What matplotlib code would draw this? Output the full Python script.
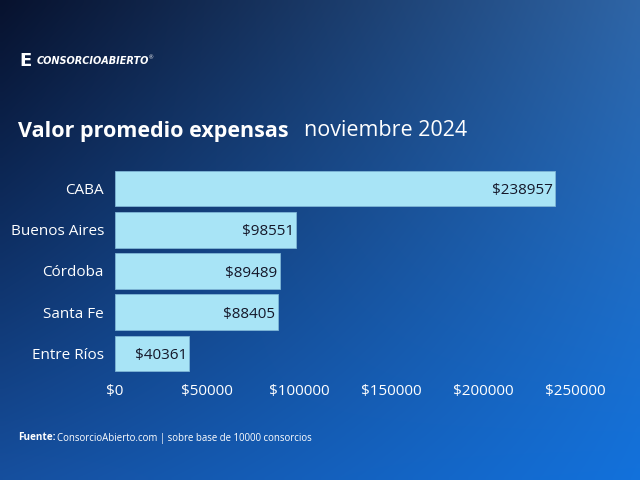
import numpy as np
import matplotlib
matplotlib.use('Agg')
import matplotlib.pyplot as plt
from matplotlib.ticker import FuncFormatter

regions = ['CABA', 'Buenos Aires', 'Córdoba', 'Santa Fe', 'Entre Ríos']
values = [238957, 98551, 89489, 88405, 40361]
xticks = [0, 50000, 100000, 150000, 200000, 250000]

plt.rcParams['font.family'] = ['Open Sans', 'DejaVu Sans']

fig = plt.figure(figsize=(6.4, 4.8), dpi=100)

# background gradient (corner colours)
bg = fig.add_axes([0, 0, 1, 1])
tl = np.array([0x0c, 0x1a, 0x3a]) / 255.
tr = np.array([0x3a, 0x72, 0xb0]) / 255.
bl = np.array([0x1e, 0x5c, 0xa8]) / 255.
br = np.array([0x1a, 0x7e, 0xe0]) / 255.
u = np.linspace(0, 1, 128)[None, :, None]
v = np.linspace(0, 1, 96)[:, None, None]
grad = (1 - v) * ((1 - u) * tl + u * tr) + v * ((1 - u) * bl + u * br)
grad = np.clip(grad ** 1.15, 0, 1)
bg.imshow(grad, aspect='auto', extent=[0, 1, 0, 1], interpolation='bilinear')
bg.set_axis_off()

ax = fig.add_axes([115 / 640, 1 - 374 / 480, 460 / 640, 206 / 480])
ax.patch.set_alpha(0)
y = np.arange(len(regions))
ax.barh(y, values, height=0.86, color='#a8e4f6', edgecolor='#7fb6d6',
        linewidth=0.6, zorder=2)
for yi, val in zip(y, values):
    ax.text(val - 1200, yi, '$%d' % val, ha='right', va='center_baseline',
            fontsize=11, color='#15182a', zorder=3)
ax.set_yticks(y)
ax.set_yticklabels(regions)
ax.set_ylim(len(regions) - 0.5, -0.5)
ax.set_xlim(0, 250000)
ax.set_xticks(xticks)
ax.xaxis.set_major_formatter(FuncFormatter(lambda x, p: '$%d' % x))
ax.tick_params(length=0, labelsize=11, colors='white')
ax.tick_params(axis='y', pad=8)
ax.tick_params(axis='x', pad=7)
for s in ax.spines.values():
    s.set_visible(False)

# logo
fig.text(19 / 640, 1 - 61 / 480, 'E', fontsize=13, fontweight='bold',
         color='white', va='center', family='DejaVu Sans')
fig.text(37 / 640, 1 - 61 / 480, 'CONSORCIOABIERTO', fontsize=7,
         fontweight='bold', fontstyle='italic', color='white', va='center',
         family='DejaVu Sans')
fig.text(149 / 640, 1 - 58 / 480, '®', fontsize=4, color='white', va='center')

# title
fig.text(18 / 640, 1 - 131 / 480, 'Valor promedio expensas', fontsize=15.5,
         fontweight='bold', color='white', va='center')
fig.text(304 / 640, 1 - 131 / 480, 'noviembre 2024', fontsize=15.5,
         color='white', va='center')

# footer
fig.text(18 / 640, 1 - 438 / 480, 'Fuente:', fontsize=7.2, fontweight='bold',
         color='white', va='center')
fig.text(57 / 640, 1 - 438 / 480,
         'ConsorcioAbierto.com | sobre base de 10000 consorcios',
         fontsize=6.9, color='white', va='center')

fig.savefig('out.png', dpi=100)
